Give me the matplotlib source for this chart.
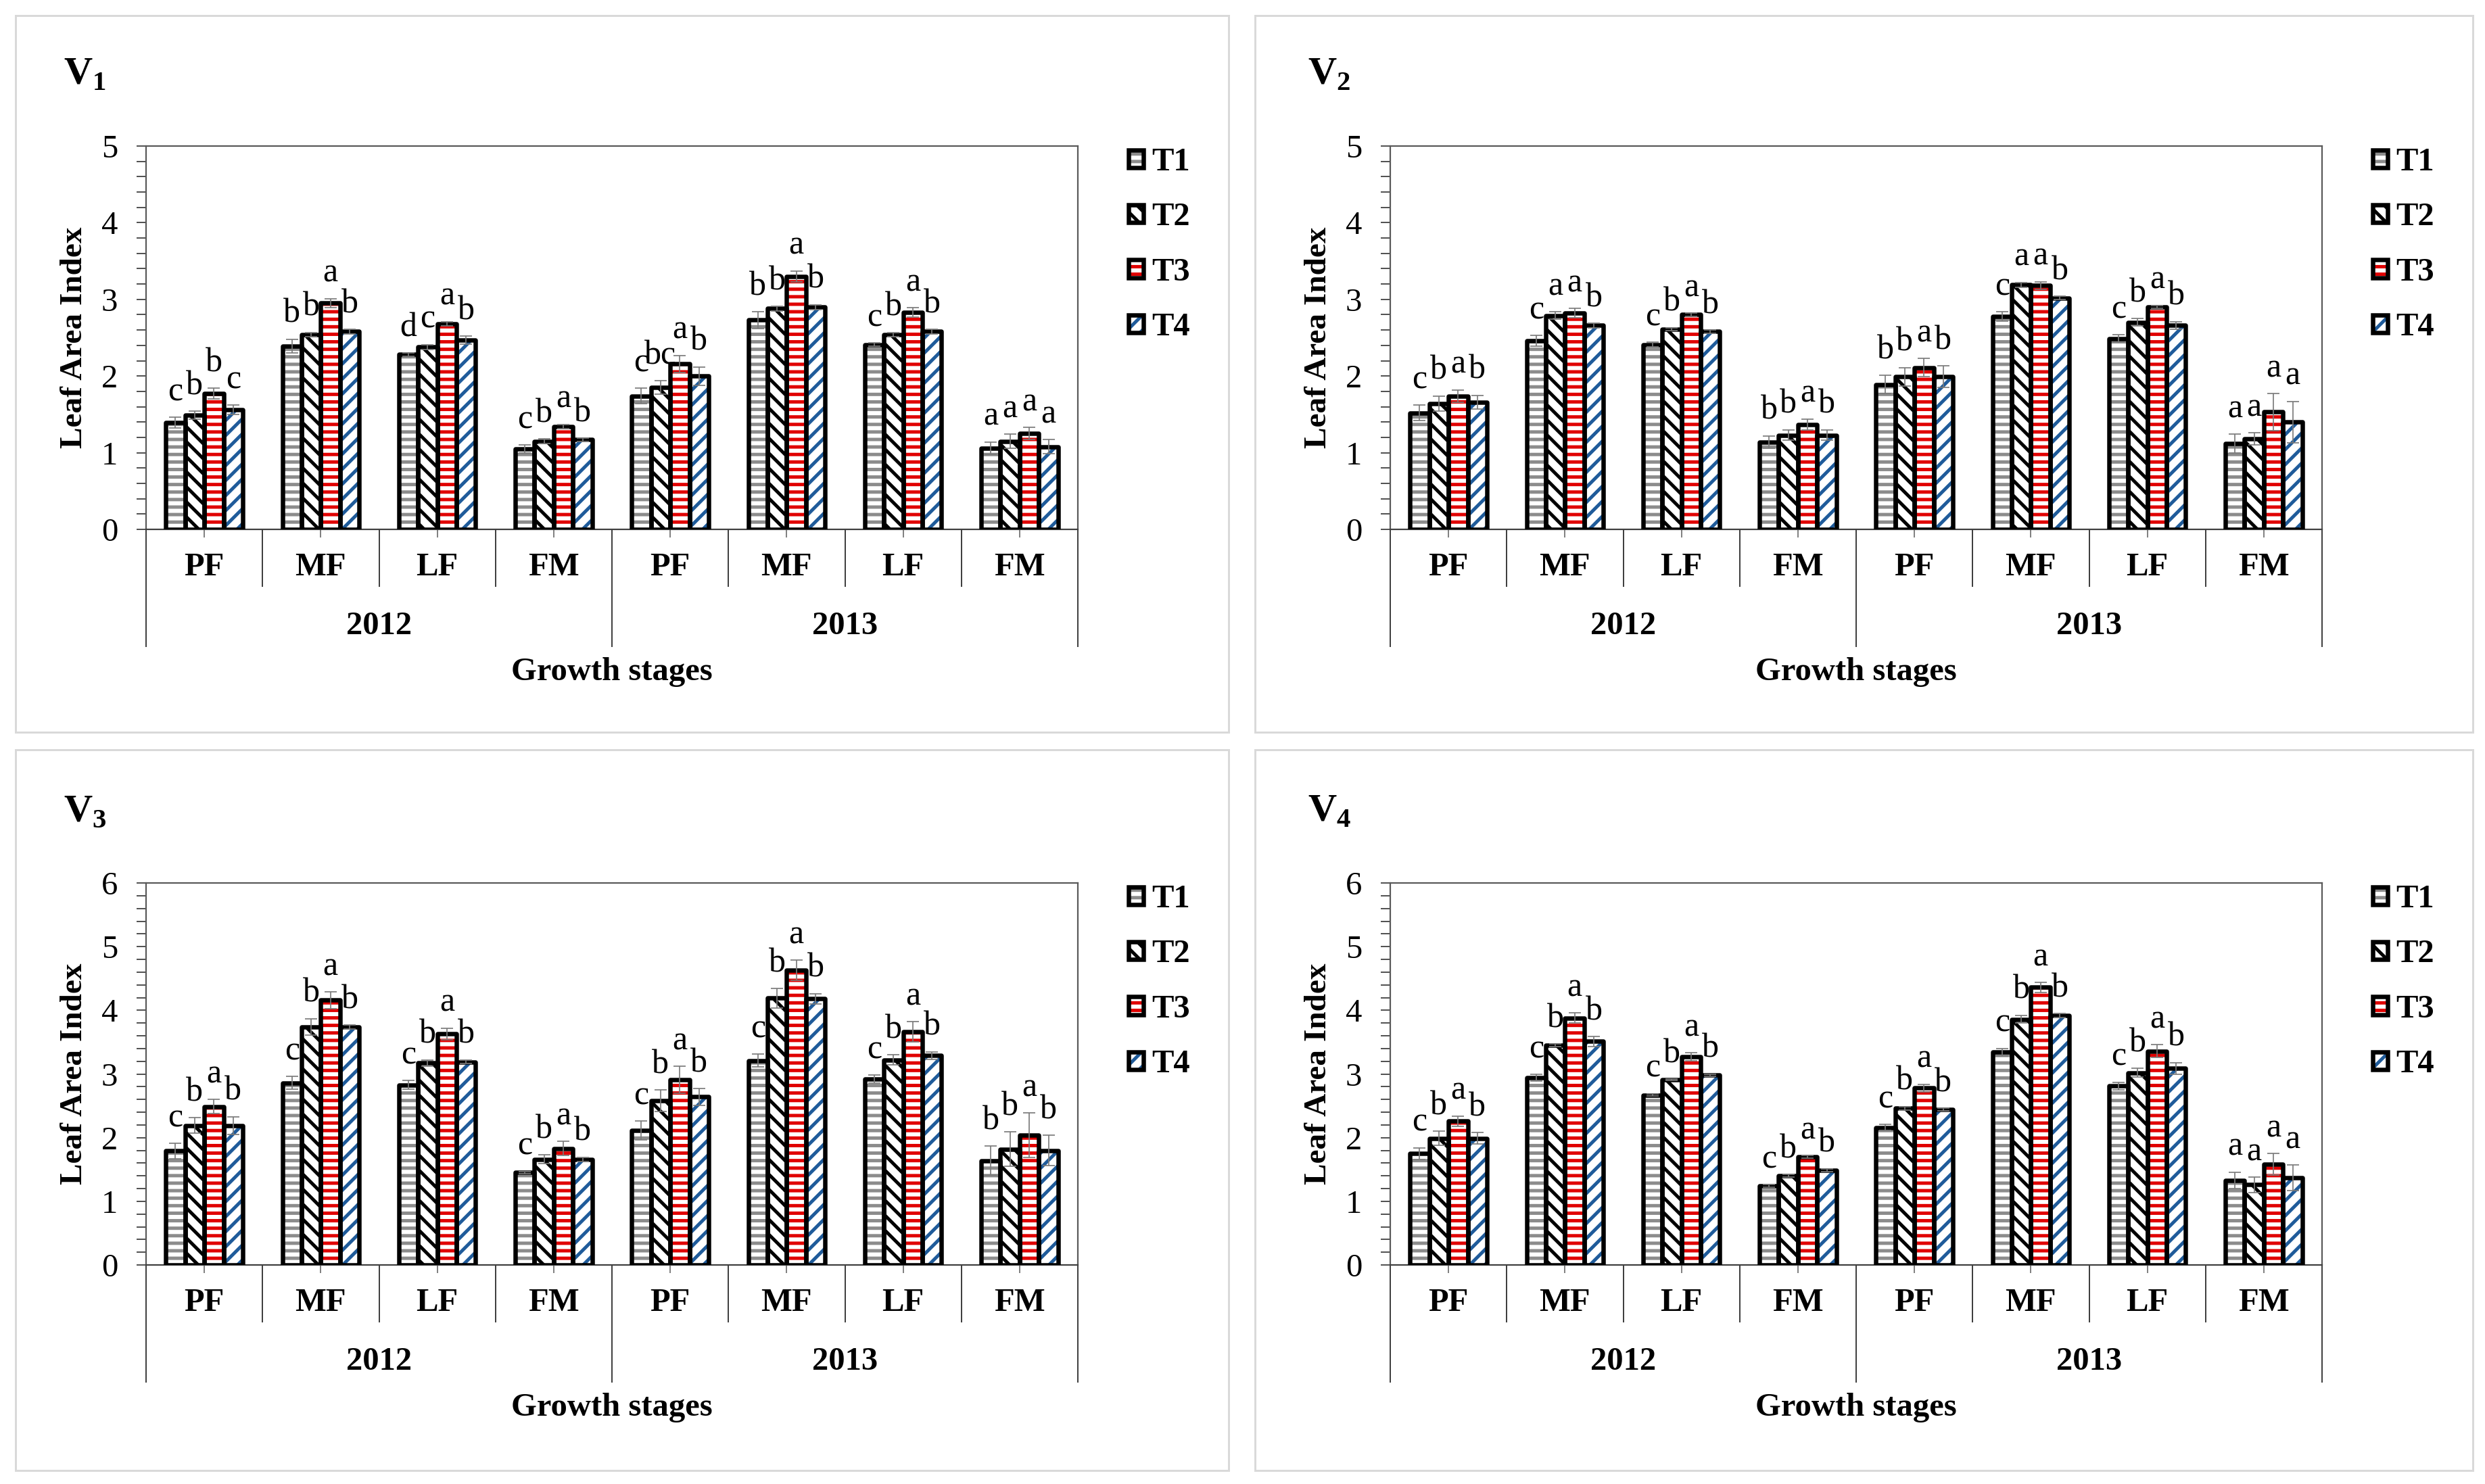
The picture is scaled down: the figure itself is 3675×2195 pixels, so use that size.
import numpy as np
import matplotlib
matplotlib.use('Agg')
import matplotlib.pyplot as plt
import matplotlib.transforms as mtransforms
from matplotlib.patches import Rectangle
from matplotlib.legend_handler import HandlerTuple
from matplotlib.ticker import MultipleLocator

# ---------------- data ----------------
stages = ['PF', 'MF', 'LF', 'FM']
years = ['2012', '2013']
treatments = ['T1', 'T2', 'T3', 'T4']
panel_names = ['1', '2', '3', '4']

# order of 8 values: 2012 PF, MF, LF, FM, 2013 PF, MF, LF, FM
V1_T1 = [1.39, 2.39, 2.28, 1.05, 1.74, 2.73, 2.41, 1.06]
V1_T2 = [1.49, 2.54, 2.38, 1.15, 1.85, 2.88, 2.54, 1.15]
V1_T3 = [1.77, 2.95, 2.68, 1.34, 2.16, 3.30, 2.83, 1.25]
V1_T4 = [1.56, 2.58, 2.47, 1.17, 2.00, 2.90, 2.58, 1.08]
V1_E1 = [0.07, 0.09, 0.02, 0.05, 0.10, 0.11, 0.02, 0.08]
V1_E2 = [0.05, 0.03, 0.03, 0.03, 0.09, 0.03, 0.03, 0.09]
V1_E3 = [0.07, 0.06, 0.03, 0.03, 0.11, 0.07, 0.06, 0.08]
V1_E4 = [0.06, 0.03, 0.05, 0.02, 0.12, 0.03, 0.03, 0.09]
V1_L1 = ['c', 'b', 'd', 'c', 'c', 'b', 'c', 'a']
V1_L2 = ['b', 'b', 'c', 'b', 'bc', 'b', 'b', 'a']
V1_L3 = ['b', 'a', 'a', 'a', 'a', 'a', 'a', 'a']
V1_L4 = ['c', 'b', 'b', 'b', 'b', 'b', 'b', 'a']

V2_T1 = [1.52, 2.46, 2.41, 1.14, 1.89, 2.78, 2.49, 1.12]
V2_T2 = [1.64, 2.79, 2.61, 1.23, 1.99, 3.19, 2.70, 1.18]
V2_T3 = [1.74, 2.82, 2.80, 1.37, 2.11, 3.18, 2.90, 1.53]
V2_T4 = [1.66, 2.66, 2.58, 1.23, 1.99, 3.02, 2.66, 1.40]
V2_E1 = [0.10, 0.07, 0.03, 0.08, 0.12, 0.06, 0.05, 0.12]
V2_E2 = [0.10, 0.05, 0.02, 0.07, 0.12, 0.03, 0.05, 0.08]
V2_E3 = [0.08, 0.06, 0.02, 0.07, 0.12, 0.05, 0.02, 0.24]
V2_E4 = [0.09, 0.03, 0.02, 0.07, 0.14, 0.02, 0.05, 0.27]
V2_L1 = ['c', 'c', 'c', 'b', 'b', 'c', 'c', 'a']
V2_L2 = ['b', 'a', 'b', 'b', 'b', 'a', 'b', 'a']
V2_L3 = ['a', 'a', 'a', 'a', 'a', 'a', 'a', 'a']
V2_L4 = ['b', 'b', 'b', 'b', 'b', 'b', 'b', 'a']

V3_T1 = [1.79, 2.86, 2.83, 1.45, 2.11, 3.21, 2.92, 1.64]
V3_T2 = [2.19, 3.74, 3.17, 1.66, 2.58, 4.19, 3.22, 1.82]
V3_T3 = [2.49, 4.16, 3.63, 1.83, 2.91, 4.63, 3.66, 2.04]
V3_T4 = [2.19, 3.74, 3.19, 1.66, 2.64, 4.18, 3.29, 1.80]
V3_E1 = [0.12, 0.10, 0.07, 0.02, 0.15, 0.10, 0.06, 0.23]
V3_E2 = [0.12, 0.13, 0.05, 0.07, 0.17, 0.15, 0.08, 0.27]
V3_E3 = [0.11, 0.13, 0.09, 0.11, 0.21, 0.16, 0.16, 0.35]
V3_E4 = [0.14, 0.03, 0.03, 0.03, 0.13, 0.08, 0.06, 0.24]
V3_L1 = ['c', 'c', 'c', 'c', 'c', 'c', 'c', 'b']
V3_L2 = ['b', 'b', 'b', 'b', 'b', 'b', 'b', 'b']
V3_L3 = ['a', 'a', 'a', 'a', 'a', 'a', 'a', 'a']
V3_L4 = ['b', 'b', 'b', 'b', 'b', 'b', 'b', 'b']

V4_T1 = [1.75, 2.94, 2.67, 1.24, 2.16, 3.34, 2.81, 1.33]
V4_T2 = [1.99, 3.45, 2.91, 1.40, 2.46, 3.86, 3.02, 1.26]
V4_T3 = [2.26, 3.88, 3.27, 1.70, 2.78, 4.36, 3.36, 1.58]
V4_T4 = [1.99, 3.51, 2.98, 1.49, 2.44, 3.92, 3.09, 1.37]
V4_E1 = [0.09, 0.05, 0.02, 0.02, 0.05, 0.06, 0.06, 0.13]
V4_E2 = [0.11, 0.02, 0.01, 0.02, 0.03, 0.06, 0.07, 0.12]
V4_E3 = [0.08, 0.08, 0.06, 0.02, 0.06, 0.08, 0.10, 0.17]
V4_E4 = [0.09, 0.08, 0.02, 0.02, 0.02, 0.03, 0.09, 0.20]
V4_L1 = ['c', 'c', 'c', 'c', 'c', 'c', 'c', 'a']
V4_L2 = ['b', 'b', 'b', 'b', 'b', 'b', 'b', 'a']
V4_L3 = ['a', 'a', 'a', 'a', 'a', 'a', 'a', 'a']
V4_L4 = ['b', 'b', 'b', 'b', 'b', 'b', 'b', 'a']

y_max = [5, 5, 6, 6]

# ---------------- style ----------------
W, H, DPI = 3675, 2195, 200
PX = 72.0 / DPI  # points per pixel

plt.rcParams['font.family'] = ['Liberation Serif', 'DejaVu Serif']
plt.rcParams['hatch.linewidth'] = 1.8
plt.rcParams['mathtext.fontset'] = 'custom'
plt.rcParams['mathtext.rm'] = 'Liberation Serif'
plt.rcParams['mathtext.bf'] = 'Liberation Serif:bold'

HATCHES = ['---', '\\\\\\', '---', '///']
HATCH_COLORS = ['#8c8c8c', '#000000', '#e00000', '#1f5b9a']
BW = 0.165
FS = 17.5
AXC = '#595959'

fig = plt.figure(figsize=(W / DPI, H / DPI), dpi=DPI)
fig.patch.set_facecolor('white')

panel_boxes = [(23, 23, 1817, 1083), (1856, 23, 3657, 1083),
               (23, 1109, 1817, 2175), (1856, 1109, 3657, 2175)]
axes_boxes = [(216, 216, 1594, 783), (2056, 216, 3434, 783),
              (216, 1306, 1594, 1871), (2056, 1306, 3434, 1871)]

means_all = [[V1_T1, V1_T2, V1_T3, V1_T4], [V2_T1, V2_T2, V2_T3, V2_T4],
             [V3_T1, V3_T2, V3_T3, V3_T4], [V4_T1, V4_T2, V4_T3, V4_T4]]
errs_all = [[V1_E1, V1_E2, V1_E3, V1_E4], [V2_E1, V2_E2, V2_E3, V2_E4],
            [V3_E1, V3_E2, V3_E3, V3_E4], [V4_E1, V4_E2, V4_E3, V4_E4]]
lets_all = [[V1_L1, V1_L2, V1_L3, V1_L4], [V2_L1, V2_L2, V2_L3, V2_L4],
            [V3_L1, V3_L2, V3_L3, V3_L4], [V4_L1, V4_L2, V4_L3, V4_L4]]

for p in range(4):
    x0, y0, x1, y1 = panel_boxes[p]
    fig.add_artist(Rectangle((x0 / W, 1 - y1 / H), (x1 - x0) / W, (y1 - y0) / H,
                             transform=fig.transFigure, fill=False,
                             edgecolor='#d9d9d9', linewidth=3 * PX))
    ax0, ay0, ax1, ay1 = axes_boxes[p]
    ax_w, ax_h = ax1 - ax0, ay1 - ay0
    ax = fig.add_axes([ax0 / W, 1 - ay1 / H, ax_w / W, ax_h / H])

    cats = np.arange(len(stages) * len(years))
    handles = []
    for i in range(4):
        xi = cats + (i - 1.5) * BW
        m = means_all[p][i]
        e = errs_all[p][i]
        fill = ax.bar(xi, m, BW, color='white', edgecolor=HATCH_COLORS[i],
                      hatch=HATCHES[i], linewidth=0, zorder=2)
        edge = ax.bar(xi, m, BW, fill=False, edgecolor='black',
                      linewidth=6.5 * PX, joinstyle='round', zorder=3)
        ax.errorbar(xi, m, yerr=e, fmt='none', ecolor='#7a7a7a',
                    elinewidth=1.7 * PX, capsize=9 * PX, capthick=1.7 * PX, zorder=4)
        for xx, mm, ee, ll in zip(xi, m, e, lets_all[p][i]):
            ax.annotate(ll, (xx, mm + ee), xytext=(0, 5), textcoords='offset points',
                        ha='center', va='bottom', fontsize=FS + 0.5, zorder=5)
        handles.append((fill.patches[0], edge.patches[0]))

    ax.set_xlim(-0.5, len(cats) - 0.5)
    ax.set_ylim(0, y_max[p])
    ax.yaxis.set_major_locator(MultipleLocator(1))
    ax.yaxis.set_minor_locator(MultipleLocator(0.2))
    ax.set_xticks(cats)
    ax.set_xticklabels([])
    ax.tick_params(axis='x', length=12 * PX, width=1.5 * PX, color=AXC, direction='out')
    ax.tick_params(axis='y', which='both', length=14 * PX, width=1.8 * PX,
                   color='#404040', direction='out', labelsize=FS, pad=10)
    for s in ax.spines.values():
        s.set_color(AXC)
        s.set_linewidth(2.2 * PX)
    ax.spines['bottom'].set_color('#404040')

    trans = mtransforms.blended_transform_factory(ax.transData, ax.transAxes)
    # stage and year labels
    for k, c in enumerate(cats):
        ax.text(c, -56 / ax_h, stages[k % len(stages)], transform=trans,
                ha='center', va='center', fontsize=FS, fontweight='bold')
    for j, yr in enumerate(years):
        xc = j * len(stages) + (len(stages) - 1) / 2
        ax.text(xc, -143 / ax_h, yr, transform=trans, ha='center', va='center',
                fontsize=FS, fontweight='bold')
    # divider lines
    for b in np.arange(-0.5, len(cats), 1.0):
        is_year = (abs((b + 0.5) % len(stages)) < 1e-9)
        depth = 173 if is_year else 84
        ax.plot([b, b], [0, -depth / ax_h], transform=trans, clip_on=False,
                color='#404040', linewidth=2 * PX)
    ax.text(0.5, -211 / ax_h, 'Growth stages', transform=ax.transAxes,
            ha='center', va='center', fontsize=FS, fontweight='bold')
    ax.text(-106 / ax_w, 0.5, 'Leaf Area Index', transform=ax.transAxes,
            rotation=90, ha='center', va='center', fontsize=FS - 0.5, fontweight='bold')
    ax.text(-122 / ax_w, 1 + 92 / ax_h, r'$\mathbf{V}_{\mathbf{%s}}$' % panel_names[p],
            transform=ax.transAxes, ha='left', va='baseline', fontsize=21)

    ax.legend(handles, treatments, handler_map={tuple: HandlerTuple(ndivide=1)},
              loc='upper left', bbox_to_anchor=((ax1 + 75) / W, 1 - (ay0 + 2) / H),
              bbox_transform=fig.transFigure, frameon=False, borderpad=0,
              borderaxespad=0, handlelength=0.45, handleheight=0.45,
              handletextpad=0.25, labelspacing=0.77,
              prop={'size': FS, 'weight': 'bold'})

fig.savefig('out.png', dpi=DPI, facecolor='white')
